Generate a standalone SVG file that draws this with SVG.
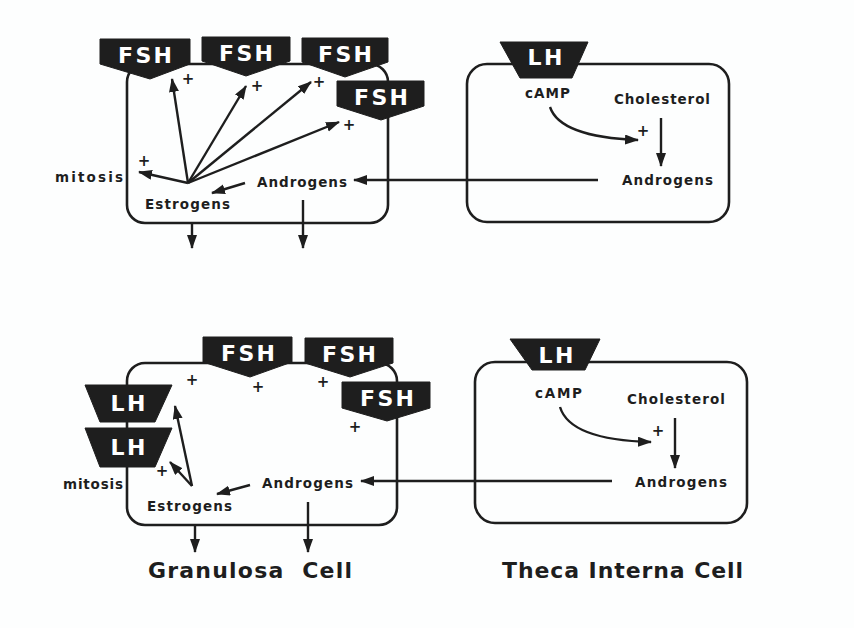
<svg xmlns="http://www.w3.org/2000/svg" width="854" height="628" viewBox="0 0 854 628">
<defs>
<marker id="ah" markerUnits="userSpaceOnUse" markerWidth="16" markerHeight="12" refX="13" refY="5" orient="auto">
<path d="M0,0 L14,5 L0,10 Z" fill="#1e1e1e"/>
</marker>
</defs>
<style>
.cell{fill:none;stroke:#1e1e1e;stroke-width:2.6}
.hor{fill:#1e1e1e;stroke:#1e1e1e;stroke-width:1}
.ht{font-family:"DejaVu Sans","Liberation Sans",sans-serif;font-weight:bold;font-size:22px;fill:#ffffff;text-anchor:middle}
.lb{font-family:"DejaVu Sans","Liberation Sans",sans-serif;font-weight:bold;font-size:13.5px;fill:#1e1e1e}
.pl{font-family:"DejaVu Sans","Liberation Sans",sans-serif;font-weight:bold;font-size:15px;fill:#1e1e1e;text-anchor:middle}
.cap{font-family:"DejaVu Sans","Liberation Sans",sans-serif;font-weight:bold;font-size:22px;fill:#1e1e1e}
.ar{fill:none;stroke:#1e1e1e;stroke-width:2.4;marker-end:url(#ah)}
</style>
<rect width="854" height="628" fill="#fdfefe"/>

<g id="granulosa-top">
<rect class="cell" x="127" y="64" width="261" height="159" rx="18"/>
</g>
<g id="theca-top">
<rect class="cell" x="467" y="64" width="262" height="158" rx="20"/>
</g>
<g id="granulosa-bottom">
<rect class="cell" x="127" y="363" width="270" height="162" rx="18"/>
</g>
<g id="theca-bottom">
<rect class="cell" x="475" y="362" width="272" height="161" rx="20"/>
</g>

<g id="fsh-t1"><path class="hor" d="M100,39 H190 V64 L150,79 L100,64 Z"/><text class="ht" x="145" y="63" textLength="54" lengthAdjust="spacing">FSH</text></g>
<g id="fsh-t2"><path class="hor" d="M202,37 H290 V61 L246,76 L202,61 Z"/><text class="ht" x="246" y="61" textLength="54" lengthAdjust="spacing">FSH</text></g>
<g id="fsh-t3"><path class="hor" d="M302,38 H388 V62 L345,77 L302,62 Z"/><text class="ht" x="345" y="62" textLength="54" lengthAdjust="spacing">FSH</text></g>
<g id="fsh-t4"><path class="hor" d="M337,81 H424 V106 L381,120 L337,106 Z"/><text class="ht" x="381" y="105" textLength="54" lengthAdjust="spacing">FSH</text></g>
<g id="lh-t"><path class="hor" d="M500,42 H588 L572,78 H520 Z"/><text class="ht" x="545" y="65" textLength="35" lengthAdjust="spacing">LH</text></g>

<g id="fsh-b1"><path class="hor" d="M203,337 H292 V362 L250,377 L203,362 Z"/><text class="ht" x="248" y="361" textLength="54" lengthAdjust="spacing">FSH</text></g>
<g id="fsh-b2"><path class="hor" d="M305,338 H393 V363 L350,377 L305,363 Z"/><text class="ht" x="349" y="362" textLength="54" lengthAdjust="spacing">FSH</text></g>
<g id="fsh-b3"><path class="hor" d="M342,382 H430 V408 L387,421 L342,408 Z"/><text class="ht" x="387" y="406" textLength="54" lengthAdjust="spacing">FSH</text></g>
<g id="lh-b1"><path class="hor" d="M85,385 H172 L155,422 H100 Z"/><text class="ht" x="128" y="411" textLength="35" lengthAdjust="spacing">LH</text></g>
<g id="lh-b2"><path class="hor" d="M85,428 H172 L155,467 H100 Z"/><text class="ht" x="128" y="455" textLength="35" lengthAdjust="spacing">LH</text></g>
<g id="lh-b3"><path class="hor" d="M510,339 H600 L585,370 H532 Z"/><text class="ht" x="556" y="363" textLength="35" lengthAdjust="spacing">LH</text></g>

<g id="connectors">
<line class="ar" x1="188" y1="183" x2="172" y2="79"/>
<line class="ar" x1="188" y1="183" x2="246" y2="86"/>
<line class="ar" x1="188" y1="183" x2="311" y2="82"/>
<line class="ar" x1="188" y1="183" x2="339" y2="122"/>
<line class="ar" x1="188" y1="183" x2="139" y2="172"/>
<line class="ar" x1="245" y1="183" x2="212" y2="193"/>
<line class="ar" x1="598" y1="180" x2="354" y2="180"/>
<line class="ar" x1="192" y1="223" x2="192" y2="248"/>
<line class="ar" x1="303" y1="200" x2="303" y2="248"/>
<path class="ar" d="M550,107 Q560,137 638,140"/>
<line class="ar" x1="661" y1="118" x2="661" y2="166"/>

<line class="ar" x1="192" y1="486" x2="175" y2="406"/>
<line class="ar" x1="192" y1="486" x2="170" y2="462"/>
<line class="ar" x1="250" y1="485" x2="217" y2="494"/>
<line class="ar" x1="612" y1="481" x2="361" y2="481"/>
<line class="ar" x1="195" y1="525" x2="195" y2="552"/>
<line class="ar" x1="308" y1="502" x2="308" y2="552"/>
<path class="ar" d="M560,407 Q570,440 651,442"/>
<line class="ar" x1="675" y1="418" x2="675" y2="468"/>
</g>

<g id="labels">
<text class="lb" x="55" y="182" textLength="68" lengthAdjust="spacing">mitosis</text>
<text class="lb" x="257" y="187" textLength="90" lengthAdjust="spacing">Androgens</text>
<text class="lb" x="145" y="209" textLength="85" lengthAdjust="spacing">Estrogens</text>
<text class="lb" x="525" y="98" textLength="45" lengthAdjust="spacing">cAMP</text>
<text class="lb" x="614" y="104" textLength="96" lengthAdjust="spacing">Cholesterol</text>
<text class="lb" x="622" y="185" textLength="91" lengthAdjust="spacing">Androgens</text>

<text class="lb" x="63" y="489" textLength="60" lengthAdjust="spacing">mitosis</text>
<text class="lb" x="147" y="511" textLength="85" lengthAdjust="spacing">Estrogens</text>
<text class="lb" x="262" y="488" textLength="91" lengthAdjust="spacing">Androgens</text>
<text class="lb" x="535" y="398" textLength="47" lengthAdjust="spacing">cAMP</text>
<text class="lb" x="627" y="404" textLength="98" lengthAdjust="spacing">Cholesterol</text>
<text class="lb" x="635" y="487" textLength="92" lengthAdjust="spacing">Androgens</text>

<text class="pl" x="188" y="84">+</text>
<text class="pl" x="257" y="91">+</text>
<text class="pl" x="319" y="87">+</text>
<text class="pl" x="349" y="130">+</text>
<text class="pl" x="144" y="166">+</text>
<text class="pl" x="643" y="136">+</text>

<text class="pl" x="192" y="385">+</text>
<text class="pl" x="258" y="392">+</text>
<text class="pl" x="323" y="387">+</text>
<text class="pl" x="355" y="432">+</text>
<text class="pl" x="162" y="476">+</text>
<text class="pl" x="658" y="436">+</text>

<text class="cap" x="148" y="578" textLength="204" lengthAdjust="spacing" xml:space="preserve">Granulosa  Cell</text>
<text class="cap" x="502" y="578" textLength="241" lengthAdjust="spacing">Theca Interna Cell</text>
</g>
</svg>
